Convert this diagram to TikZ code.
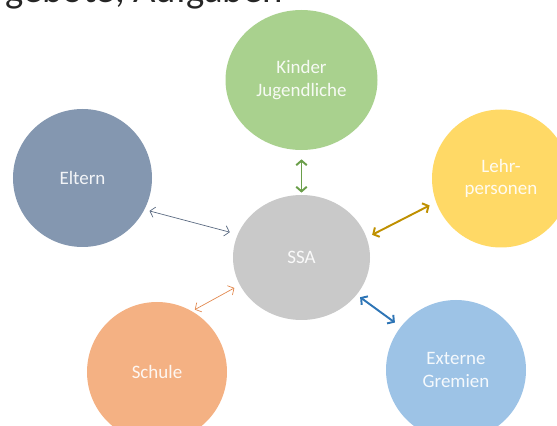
\documentclass[tikz,border=0pt]{standalone}
\usepackage{fontspec}
\setmainfont{Carlito}
\usepackage{tikz}
\usetikzlibrary{positioning,shapes.geometric,arrows.meta}
\definecolor{kindfill}{HTML}{A9D18E}
\definecolor{eltfill}{HTML}{8497B0}
\definecolor{lehrfill}{HTML}{FFD966}
\definecolor{ssafill}{HTML}{C9C9C9}
\definecolor{schulfill}{HTML}{F4B183}
\definecolor{extfill}{HTML}{9DC3E6}
\definecolor{kindline}{HTML}{6A9E4A}
\definecolor{eltline}{HTML}{5C6B82}
\definecolor{lehrline}{HTML}{BF9000}
\definecolor{schulline}{HTML}{E2894F}
\definecolor{extline}{HTML}{2E75B6}
\tikzset{bubble/.style={ellipse,inner sep=0pt,align=center,text=white,text opacity=0.9,font=\fontsize{10.8}{13}\selectfont}}
\tikzset{link/.style={{Straight Barb[length=2.6pt,width=6pt]}-{Straight Barb[length=2.6pt,width=6pt]},thin}}
\tikzset{heavy/.style={link,line width=1.1pt}}

\begin{document}
\begin{tikzpicture}
	\useasboundingbox (0,0) rectangle (11.14,-8.52);
	\clip (0,0) rectangle (11.14,-8.52);

	% heading, cut at the top edge
	\node[anchor=base east,inner sep=0pt,font=\fontsize{22}{26}\selectfont,text=black!85] (head) at (5.66,-0.05) {gebote, Aufgaben};

	%% the six groups
	\node[bubble,fill=kindfill,minimum width=3.04cm,minimum height=2.80cm] (kinder) at (6.03,-1.60) {Kinder\\Jugendliche};
	\node[bubble,fill=eltfill,minimum width=2.78cm,minimum height=2.76cm] (eltern) at (1.65,-3.56) {Eltern};
	\node[bubble,fill=lehrfill,minimum width=2.76cm,minimum height=2.76cm] (lehr) at (10.02,-3.57) {Lehr-\\personen};
	\node[bubble,fill=ssafill,minimum width=2.74cm,minimum height=2.50cm] (ssa) at (6.03,-5.15) {SSA};
	\node[bubble,fill=schulfill,minimum width=2.80cm,minimum height=2.80cm] (schule) at (3.14,-7.44) {Schule};
	\node[bubble,fill=extfill,minimum width=2.80cm,minimum height=2.80cm] (extern) at (9.12,-7.40) {Externe\\Gremien};

	% connections to SSA
	\draw[heavy,kindline,shorten <=0.18cm,shorten >=0.04cm] (kinder.south) -- (ssa.north);
	\draw[link,eltline,shorten <=0.10cm,shorten >=0.16cm] (eltern.-27) -- (ssa.160);
	\draw[heavy,lehrline,shorten <=0.12cm,shorten >=0.14cm] (ssa.17) -- (lehr.200);
	\draw[link,schulline,shorten <=0.06cm,shorten >=0.12cm] (schule.60) -- (ssa.204);
	\draw[heavy,extline,shorten <=0.08cm,shorten >=0.14cm] (ssa.-34) -- (extern.142);
\end{tikzpicture}
\end{document}
